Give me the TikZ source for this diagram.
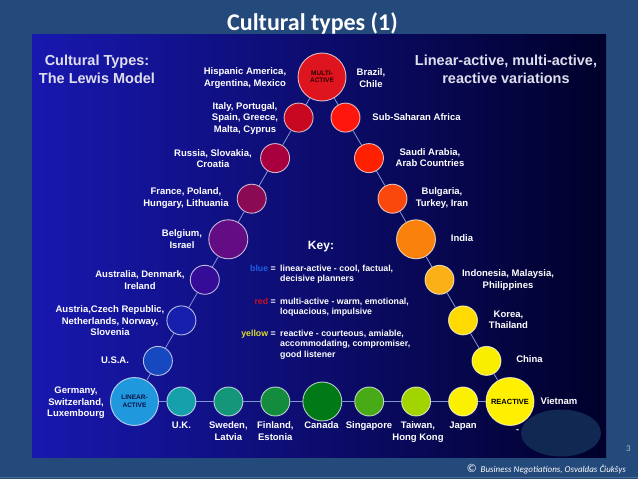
\documentclass[tikz,border=0pt]{standalone}
\usepackage{fontspec}
\setmainfont{Liberation Sans}
\newfontfamily\titlefont{Carlito}
\usetikzlibrary{shapes.geometric}

\definecolor{slate}{RGB}{36,73,123}
\definecolor{panelL}{RGB}{24,24,176}
\definecolor{panelM}{RGB}{8,8,118}
\definecolor{panelR}{RGB}{0,0,42}
\definecolor{linkc}{RGB}{130,150,210}
\definecolor{headc}{RGB}{222,222,238}
\definecolor{maskc}{RGB}{16,40,82}
\definecolor{pagegray}{RGB}{170,185,205}
\definecolor{bline}{RGB}{72,106,150}
\definecolor{kblue}{RGB}{30,95,225}
\definecolor{kred}{RGB}{200,16,32}
\definecolor{kyellow}{RGB}{220,220,50}
\definecolor{maText}{RGB}{40,0,0}
\definecolor{laText}{RGB}{12,16,70}

\definecolor{cMA}{RGB}{222,20,30}
\definecolor{cIT}{RGB}{200,8,32}
\definecolor{cRU}{RGB}{168,0,62}
\definecolor{cFR}{RGB}{138,10,84}
\definecolor{cBE}{RGB}{100,12,132}
\definecolor{cAU}{RGB}{52,12,152}
\definecolor{cAT}{RGB}{22,32,172}
\definecolor{cUS}{RGB}{22,72,192}
\definecolor{cLA}{RGB}{32,152,222}
\definecolor{cUK}{RGB}{22,160,172}
\definecolor{cSW}{RGB}{20,150,122}
\definecolor{cFI}{RGB}{20,140,62}
\definecolor{cCA}{RGB}{0,122,22}
\definecolor{cSG}{RGB}{72,170,22}
\definecolor{cTW}{RGB}{162,212,0}
\definecolor{cJP}{RGB}{250,240,0}
\definecolor{cRE}{RGB}{255,240,0}
\definecolor{cCN}{RGB}{250,238,0}
\definecolor{cKR}{RGB}{255,218,0}
\definecolor{cID}{RGB}{250,176,22}
\definecolor{cIN}{RGB}{250,130,12}
\definecolor{cBG}{RGB}{250,72,12}
\definecolor{cSA}{RGB}{255,32,0}
\definecolor{cSS}{RGB}{255,22,12}

\begin{document}
\begin{tikzpicture}[x=1pt,y=-1pt,
  dot/.style={circle,inner sep=0pt,minimum size=29pt,draw=white,draw opacity=0.7,line width=0.9pt},
  bigdot/.style={minimum size=39pt},
  cornerdot/.style={minimum size=48pt},
  lab/.style={text=white,font=\bfseries\fontsize{9.5}{11.5}\selectfont,align=center,inner sep=0pt},
  head/.style={text=headc,font=\bfseries\fontsize{14.5}{17.5}\selectfont,align=center,inner sep=0pt},
  keyt/.style={text=white,font=\bfseries\fontsize{8.8}{10.5}\selectfont,align=left,inner sep=0pt},
  intext/.style={font=\bfseries\fontsize{6.5}{7.5}\selectfont,align=center},
  link/.style={draw=linkc,line width=0.8pt},
]
\useasboundingbox (0,0) rectangle (638,479);
\fill[slate] (0,0) rectangle (638,479);
\draw[bline,line width=1.2pt] (0,477.8) -- (638,477.8);
\shade[left color=panelL,middle color=panelM,right color=panelR] (32,34) rectangle (606,457);

% title
\node[anchor=base,font=\titlefont\bfseries\fontsize{24}{28}\selectfont,text=white,inner sep=0pt] (title) at (312.5,30.5) {Cultural types (1)};

% headers
\node[head] (hl) at (97,69.5) {Cultural Types:\\The Lewis Model};
\node[head] (hr) at (506,69.5) {Linear-active, multi-active,\\reactive variations};

% circles: left side
\node[dot,cornerdot,fill=cMA,intext,text=maText] (ma) at (322,77) {MULTI-\\ACTIVE};
\node[dot,fill=cIT] (it) at (298.6,117.6) {};
\node[dot,fill=cRU] (ru) at (275.1,158.1) {};
\node[dot,fill=cFR] (fr) at (251.7,198.7) {};
\node[dot,bigdot,fill=cBE] (be) at (228.3,239.3) {};
\node[dot,fill=cAU] (au) at (204.8,279.8) {};
\node[dot,fill=cAT] (at) at (181.4,320.4) {};
\node[dot,fill=cUS] (us) at (157.9,360.9) {};
\node[dot,cornerdot,fill=cLA,intext,text=laText] (la) at (134.5,401.5) {LINEAR-\\ACTIVE};
% bottom
\node[dot,fill=cUK] (uk) at (181.4,401.5) {};
\node[dot,fill=cSW] (sw) at (228.4,401.5) {};
\node[dot,fill=cFI] (fi) at (275.3,401.5) {};
\node[dot,bigdot,fill=cCA] (ca) at (322.3,401.5) {};
\node[dot,fill=cSG] (sg) at (369.2,401.5) {};
\node[dot,fill=cTW] (tw) at (416.1,401.5) {};
\node[dot,fill=cJP] (jp) at (463.1,401.5) {};
\node[dot,cornerdot,fill=cRE,text=black,font=\bfseries\fontsize{7.5}{8}\selectfont] (re) at (510,401.5) {REACTIVE};
% right side
\node[dot,fill=cSS] (ss) at (345.5,117.6) {};
\node[dot,fill=cSA] (sa) at (369,158.1) {};
\node[dot,fill=cBG] (bg) at (392.5,198.7) {};
\node[dot,bigdot,fill=cIN] (in) at (416,239.3) {};
\node[dot,fill=cID] (id) at (439.5,279.8) {};
\node[dot,fill=cKR] (kr) at (463,320.4) {};
\node[dot,fill=cCN] (cn) at (486.5,360.9) {};

% connectors
\foreach \a/\b in {ma/it,it/ru,ru/fr,fr/be,be/au,au/at,at/us,us/la,
                   la/uk,uk/sw,sw/fi,fi/ca,ca/sg,sg/tw,tw/jp,jp/re,
                   ma/ss,ss/sa,sa/bg,bg/in,in/id,id/kr,kr/cn,cn/re}
  \draw[link] (\a) -- (\b);

% left labels
\node[lab] (tHI) at (245,78) {Hispanic America,\\Argentina, Mexico};
\node[lab] (tIT) at (245,118.5) {Italy, Portugal,\\Spain, Greece,\\Malta, Cyprus};
\node[lab] (tRU) at (213,158.5) {Russia, Slovakia,\\Croatia};
\node[lab] (tFR) at (186,198) {France, Poland,\\Hungary, Lithuania};
\node[lab] (tBE) at (182,239) {Belgium,\\Israel};
\node[lab] (tAU) at (140,280) {Australia, Denmark,\\Ireland};
\node[lab] (tAT) at (110,321) {Austria,Czech Republic,\\Netherlands, Norway,\\Slovenia};
\node[lab] (tUS) at (115,360) {U.S.A.};
\node[lab] (tDE) at (76,403) {Germany,\\Switzerland,\\Luxembourg};
% bottom labels
\node[lab,anchor=north] (tUK) at (181.4,421.5) {U.K.};
\node[lab,anchor=north] (tSW) at (228.4,421.5) {Sweden,\\Latvia};
\node[lab,anchor=north] (tFI) at (275.3,421.5) {Finland,\\Estonia};
\node[lab,anchor=north] (tCA) at (321.5,421.5) {Canada};
\node[lab,anchor=north] (tSG) at (369,421.5) {Singapore};
\node[lab,anchor=north] (tTW) at (418,421.5) {Taiwan,\\Hong Kong};
\node[lab,anchor=north] (tJP) at (463,421.5) {Japan};
% right labels
\node[lab] (tBR) at (371,78) {Brazil,\\Chile};
\node[lab] (tSS) at (416.5,117.5) {Sub-Saharan Africa};
\node[lab] (tSA) at (430,157.5) {Saudi Arabia,\\Arab Countries};
\node[lab] (tBG) at (442,198) {Bulgaria,\\Turkey, Iran};
\node[lab] (tIN) at (462,238.5) {India};
\node[lab] (tID) at (508,280) {Indonesia, Malaysia,\\Philippines};
\node[lab] (tKR) at (508.5,320) {Korea,\\Thailand};
\node[lab] (tCN) at (529.5,359.5) {China};
\node[lab] (tVN) at (559,401) {Vietnam};

% key
\node[text=white,font=\bfseries\fontsize{12}{14}\selectfont,inner sep=0pt] (key) at (321,247) {Key:};
\node[keyt,anchor=north east] (kb) at (276,263.5) {\strut\textcolor{kblue}{blue} =};
\node[keyt,anchor=north west] (kbt) at (280,263.5) {\strut linear-active - cool, factual,\\decisive planners};
\node[keyt,anchor=north east] (kr) at (276,296.5) {\strut\textcolor{kred}{red} =};
\node[keyt,anchor=north west] (krt) at (280,296.5) {\strut multi-active - warm, emotional,\\loquacious, impulsive};
\node[keyt,anchor=north east] (ky) at (276,328.5) {\strut\textcolor{kyellow}{yellow} =};
\node[keyt,anchor=north west] (kyt) at (280,328.5) {\strut reactive - courteous, amiable,\\accommodating, compromiser,\\good listener};

% covering ellipse and dash
\node[ellipse,fill=maskc,inner sep=0pt,minimum width=80pt,minimum height=47pt] (mask) at (561,433) {};
\node[text=white,font=\bfseries\fontsize{9}{10}\selectfont,inner sep=0pt] (dash) at (517.5,431.5) {-};

% footer
\node[anchor=base east,text=white,font=\titlefont\itshape\fontsize{9}{11}\selectfont,inner sep=0pt] (foot) at (626,472) {{\fontsize{12}{12}\selectfont\char"00A9}\ \ Business Negotiations, Osvaldas Čiukšys};
\node[text=pagegray,font=\titlefont\fontsize{9}{10}\selectfont,inner sep=0pt] (pg) at (628.5,449) {3};
\end{tikzpicture}
\end{document}
